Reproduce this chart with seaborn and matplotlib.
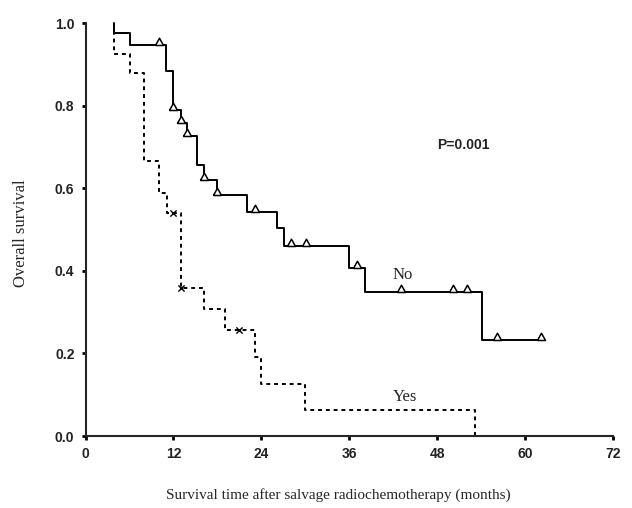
import matplotlib
matplotlib.use("Agg")
import matplotlib.pyplot as plt
import numpy as np
import pandas as pd
import seaborn as sns

# Kaplan-Meier steps (time in months, survival after the step)
no_times = [3.9, 3.9, 6.1, 11.0, 11.9, 13.0, 13.9, 15.2, 16.1, 17.9, 22.0, 26.1, 27.1, 35.9, 38.1, 54.1, 62.2]
no_surv = [1.0, 0.975, 0.947, 0.885, 0.789, 0.758, 0.726, 0.656, 0.619, 0.584, 0.543, 0.504, 0.461, 0.408, 0.349, 0.232, 0.232]
no_censor = [10.0, 11.9, 13.0, 13.9, 16.1, 17.9, 23.1, 28.0, 30.1, 37.1, 43.1, 50.2, 52.1, 56.1, 62.2]

yes_times = [3.9, 3.9, 6.1, 8.0, 10.0, 11.1, 13.0, 16.1, 19.0, 23.1, 24.0, 30.0, 53.1]
yes_surv = [1.0, 0.925, 0.880, 0.667, 0.588, 0.541, 0.358, 0.307, 0.257, 0.192, 0.126, 0.063, 0.0]
yes_censor = [12.0, 13.0, 21.0]

x_ticks = [0, 12, 24, 36, 48, 60, 72]
y_ticks = [0.0, 0.2, 0.4, 0.6, 0.8, 1.0]


def value_at(times, surv, t):
    idx = np.searchsorted(times, t, side="right") - 1
    return surv[idx]


steps = pd.concat([
    pd.DataFrame({"time": no_times, "surv": no_surv, "group": "No"}),
    pd.DataFrame({"time": yes_times, "surv": yes_surv, "group": "Yes"}),
], ignore_index=True)

cens_no = pd.DataFrame({"time": no_censor,
                        "surv": [value_at(no_times, no_surv, t) for t in no_censor]})
cens_yes = pd.DataFrame({"time": yes_censor,
                         "surv": [value_at(yes_times, yes_surv, t) for t in yes_censor]})

sns.set_style("ticks")
serif = ["Liberation Serif", "DejaVu Serif"]
sans = ["Liberation Sans", "DejaVu Sans"]
plt.rcParams["font.family"] = sans

fig = plt.figure(figsize=(6.32, 5.08), dpi=100)
ax = fig.add_axes([0.1353, 0.1417, 0.835, 0.813])

sns.lineplot(data=steps, x="time", y="surv", hue="group", style="group",
             palette={"No": "black", "Yes": "black"},
             dashes={"No": "", "Yes": (2, 2)},
             estimator=None, sort=False, drawstyle="steps-post",
             linewidth=1.4, legend=False, ax=ax, clip_on=False)

# open triangles sitting on the curve
tri = [(-1, 0), (1, 0), (0, 1.8), (-1, 0)]
sns.scatterplot(data=cens_no, x="time", y="surv", marker=tri, s=110,
                facecolor="white", edgecolor="black", linewidth=1.1,
                ax=ax, zorder=3)
sns.scatterplot(data=cens_yes, x="time", y="surv", marker="x", s=20,
                color="black", linewidth=1.0, ax=ax, zorder=3)

ax.set_xlim(0, 72)
ax.set_ylim(0, 1.0)
ax.set_xticks(x_ticks)
ax.set_yticks(y_ticks)
ax.set_xticklabels([str(t) for t in x_ticks])
ax.set_yticklabels([f"{v:.1f}" for v in y_ticks])
ax.tick_params(length=3, width=2, pad=5, labelsize=10, colors="black")
for lab in ax.get_xticklabels() + ax.get_yticklabels():
    lab.set_fontweight("bold")
    lab.set_color("#222222")

sns.despine(ax=ax)
for side in ["left", "bottom"]:
    ax.spines[side].set_linewidth(1.5)

ax.set_xlabel("")
ax.set_ylabel("")
fig.text(0.535, 0.025, "Survival time after salvage radiochemotherapy (months)",
         ha="center", va="center", family=serif, fontsize=11)
fig.text(0.034, 0.54, "Overall survival", rotation=90, ha="center", va="center",
         family=serif, fontsize=12)

ax.text(51.6, 0.705, "P=0.001", ha="center", va="center", fontsize=10,
        fontweight="bold", color="#222222")
ax.text(43.3, 0.39, "No", ha="center", va="center", family=serif, fontsize=12)
ax.text(43.6, 0.095, "Yes", ha="center", va="center", family=serif, fontsize=12)

fig.savefig("out.png", dpi=100)
